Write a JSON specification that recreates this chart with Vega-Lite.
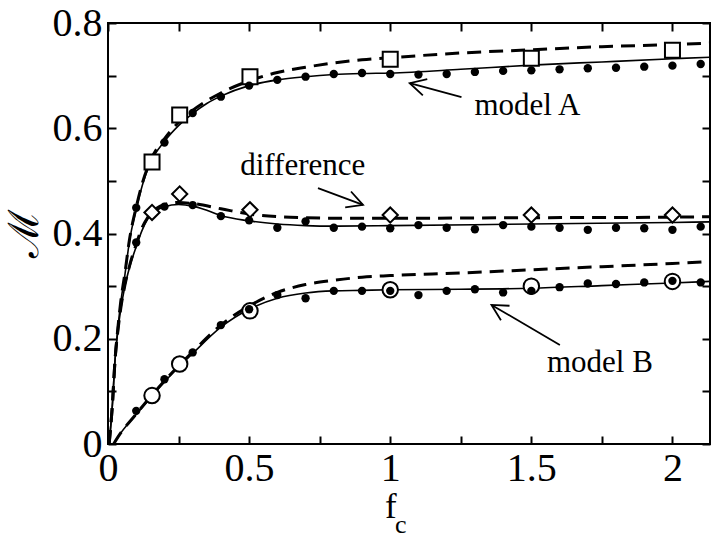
{
  "$schema": "https://vega.github.io/schema/vega-lite/v6.json",
  "width": 602,
  "height": 421,
  "autosize": {"type": "none"},
  "padding": {"left": 108, "top": 23, "right": 11, "bottom": 99},
  "background": "white",
  "config": {
    "view": {"stroke": "black", "strokeWidth": 2},
    "font": "Liberation Serif"
  },
  "datasets": {
    "curves": [
      {"model":"A","theory":"T1","fc":0.004,"M":0},{"model":"A","theory":"T1","fc":0.015,"M":0.07},{"model":"A","theory":"T1","fc":0.025,"M":0.16},{"model":"A","theory":"T1","fc":0.035,"M":0.22},{"model":"A","theory":"T1","fc":0.045,"M":0.268},{"model":"A","theory":"T1","fc":0.06,"M":0.322},{"model":"A","theory":"T1","fc":0.076,"M":0.385},{"model":"A","theory":"T1","fc":0.1,"M":0.446},{"model":"A","theory":"T1","fc":0.123,"M":0.494},{"model":"A","theory":"T1","fc":0.15,"M":0.534},{"model":"A","theory":"T1","fc":0.2,"M":0.575},{"model":"A","theory":"T1","fc":0.25,"M":0.605},{"model":"A","theory":"T1","fc":0.3,"M":0.628},{"model":"A","theory":"T1","fc":0.35,"M":0.647},{"model":"A","theory":"T1","fc":0.4,"M":0.661},{"model":"A","theory":"T1","fc":0.5,"M":0.681},{"model":"A","theory":"T1","fc":0.6,"M":0.692},{"model":"A","theory":"T1","fc":0.7,"M":0.698},{"model":"A","theory":"T1","fc":0.8,"M":0.702},{"model":"A","theory":"T1","fc":0.9,"M":0.704},{"model":"A","theory":"T1","fc":1.0,"M":0.705},{"model":"A","theory":"T1","fc":1.25,"M":0.712},{"model":"A","theory":"T1","fc":1.5,"M":0.72},{"model":"A","theory":"T1","fc":1.75,"M":0.726},{"model":"A","theory":"T1","fc":2.0,"M":0.732},{"model":"A","theory":"T1","fc":2.133,"M":0.735},
      {"model":"A","theory":"T2","fc":0.004,"M":0},{"model":"A","theory":"T2","fc":0.015,"M":0.07},{"model":"A","theory":"T2","fc":0.025,"M":0.16},{"model":"A","theory":"T2","fc":0.035,"M":0.22},{"model":"A","theory":"T2","fc":0.045,"M":0.27},{"model":"A","theory":"T2","fc":0.06,"M":0.325},{"model":"A","theory":"T2","fc":0.076,"M":0.388},{"model":"A","theory":"T2","fc":0.1,"M":0.45},{"model":"A","theory":"T2","fc":0.123,"M":0.498},{"model":"A","theory":"T2","fc":0.15,"M":0.538},{"model":"A","theory":"T2","fc":0.2,"M":0.58},{"model":"A","theory":"T2","fc":0.25,"M":0.611},{"model":"A","theory":"T2","fc":0.3,"M":0.634},{"model":"A","theory":"T2","fc":0.4,"M":0.667},{"model":"A","theory":"T2","fc":0.5,"M":0.69},{"model":"A","theory":"T2","fc":0.6,"M":0.706},{"model":"A","theory":"T2","fc":0.7,"M":0.716},{"model":"A","theory":"T2","fc":0.8,"M":0.724},{"model":"A","theory":"T2","fc":0.9,"M":0.73},{"model":"A","theory":"T2","fc":1.0,"M":0.734},{"model":"A","theory":"T2","fc":1.25,"M":0.743},{"model":"A","theory":"T2","fc":1.5,"M":0.749},{"model":"A","theory":"T2","fc":1.75,"M":0.755},{"model":"A","theory":"T2","fc":2.0,"M":0.759},{"model":"A","theory":"T2","fc":2.133,"M":0.762},
      {"model":"diff","theory":"T1","fc":0.004,"M":0},{"model":"diff","theory":"T1","fc":0.015,"M":0.07},{"model":"diff","theory":"T1","fc":0.025,"M":0.16},{"model":"diff","theory":"T1","fc":0.035,"M":0.215},{"model":"diff","theory":"T1","fc":0.045,"M":0.255},{"model":"diff","theory":"T1","fc":0.06,"M":0.3},{"model":"diff","theory":"T1","fc":0.076,"M":0.335},{"model":"diff","theory":"T1","fc":0.1,"M":0.375},{"model":"diff","theory":"T1","fc":0.12,"M":0.405},{"model":"diff","theory":"T1","fc":0.14,"M":0.427},{"model":"diff","theory":"T1","fc":0.17,"M":0.443},{"model":"diff","theory":"T1","fc":0.2,"M":0.451},{"model":"diff","theory":"T1","fc":0.25,"M":0.455},{"model":"diff","theory":"T1","fc":0.3,"M":0.452},{"model":"diff","theory":"T1","fc":0.35,"M":0.444},{"model":"diff","theory":"T1","fc":0.4,"M":0.434},{"model":"diff","theory":"T1","fc":0.5,"M":0.424},{"model":"diff","theory":"T1","fc":0.6,"M":0.418},{"model":"diff","theory":"T1","fc":0.7,"M":0.415},{"model":"diff","theory":"T1","fc":0.8,"M":0.414},{"model":"diff","theory":"T1","fc":1.0,"M":0.415},{"model":"diff","theory":"T1","fc":1.5,"M":0.418},{"model":"diff","theory":"T1","fc":2.0,"M":0.421},{"model":"diff","theory":"T1","fc":2.133,"M":0.422},
      {"model":"diff","theory":"T2","fc":0.004,"M":0},{"model":"diff","theory":"T2","fc":0.015,"M":0.07},{"model":"diff","theory":"T2","fc":0.025,"M":0.16},{"model":"diff","theory":"T2","fc":0.035,"M":0.215},{"model":"diff","theory":"T2","fc":0.045,"M":0.257},{"model":"diff","theory":"T2","fc":0.06,"M":0.302},{"model":"diff","theory":"T2","fc":0.076,"M":0.338},{"model":"diff","theory":"T2","fc":0.1,"M":0.38},{"model":"diff","theory":"T2","fc":0.12,"M":0.41},{"model":"diff","theory":"T2","fc":0.14,"M":0.43},{"model":"diff","theory":"T2","fc":0.17,"M":0.447},{"model":"diff","theory":"T2","fc":0.2,"M":0.455},{"model":"diff","theory":"T2","fc":0.25,"M":0.459},{"model":"diff","theory":"T2","fc":0.3,"M":0.457},{"model":"diff","theory":"T2","fc":0.4,"M":0.447},{"model":"diff","theory":"T2","fc":0.5,"M":0.437},{"model":"diff","theory":"T2","fc":0.6,"M":0.432},{"model":"diff","theory":"T2","fc":0.7,"M":0.43},{"model":"diff","theory":"T2","fc":0.8,"M":0.429},{"model":"diff","theory":"T2","fc":1.0,"M":0.429},{"model":"diff","theory":"T2","fc":1.5,"M":0.43},{"model":"diff","theory":"T2","fc":2.0,"M":0.431},{"model":"diff","theory":"T2","fc":2.133,"M":0.432},
      {"model":"B","theory":"T1","fc":0.02,"M":0},{"model":"B","theory":"T1","fc":0.035,"M":0.013},{"model":"B","theory":"T1","fc":0.1,"M":0.056},{"model":"B","theory":"T1","fc":0.2,"M":0.118},{"model":"B","theory":"T1","fc":0.3,"M":0.172},{"model":"B","theory":"T1","fc":0.4,"M":0.222},{"model":"B","theory":"T1","fc":0.5,"M":0.256},{"model":"B","theory":"T1","fc":0.6,"M":0.277},{"model":"B","theory":"T1","fc":0.7,"M":0.287},{"model":"B","theory":"T1","fc":0.8,"M":0.291},{"model":"B","theory":"T1","fc":0.9,"M":0.292},{"model":"B","theory":"T1","fc":1.0,"M":0.293},{"model":"B","theory":"T1","fc":1.25,"M":0.294},{"model":"B","theory":"T1","fc":1.5,"M":0.296},{"model":"B","theory":"T1","fc":1.75,"M":0.301},{"model":"B","theory":"T1","fc":2.0,"M":0.306},{"model":"B","theory":"T1","fc":2.133,"M":0.309},
      {"model":"B","theory":"T2","fc":0.02,"M":0},{"model":"B","theory":"T2","fc":0.035,"M":0.013},{"model":"B","theory":"T2","fc":0.1,"M":0.057},{"model":"B","theory":"T2","fc":0.2,"M":0.12},{"model":"B","theory":"T2","fc":0.3,"M":0.175},{"model":"B","theory":"T2","fc":0.4,"M":0.226},{"model":"B","theory":"T2","fc":0.5,"M":0.262},{"model":"B","theory":"T2","fc":0.6,"M":0.288},{"model":"B","theory":"T2","fc":0.7,"M":0.303},{"model":"B","theory":"T2","fc":0.8,"M":0.311},{"model":"B","theory":"T2","fc":0.9,"M":0.317},{"model":"B","theory":"T2","fc":1.0,"M":0.32},{"model":"B","theory":"T2","fc":1.25,"M":0.325},{"model":"B","theory":"T2","fc":1.5,"M":0.331},{"model":"B","theory":"T2","fc":1.75,"M":0.337},{"model":"B","theory":"T2","fc":2.0,"M":0.343},{"model":"B","theory":"T2","fc":2.133,"M":0.347}
    ],
    "dots": [
      {"model":"A","fc":0.1,"M":0.449},{"model":"A","fc":0.2,"M":0.573},{"model":"A","fc":0.3,"M":0.629},{"model":"A","fc":0.4,"M":0.66},{"model":"A","fc":0.5,"M":0.681},{"model":"A","fc":0.6,"M":0.692},{"model":"A","fc":0.7,"M":0.698},{"model":"A","fc":0.8,"M":0.703},{"model":"A","fc":0.9,"M":0.705},{"model":"A","fc":1.0,"M":0.703},{"model":"A","fc":1.1,"M":0.702},{"model":"A","fc":1.2,"M":0.703},{"model":"A","fc":1.3,"M":0.707},{"model":"A","fc":1.4,"M":0.709},{"model":"A","fc":1.5,"M":0.71},{"model":"A","fc":1.6,"M":0.712},{"model":"A","fc":1.7,"M":0.714},{"model":"A","fc":1.8,"M":0.715},{"model":"A","fc":1.9,"M":0.717},{"model":"A","fc":2.0,"M":0.719},{"model":"A","fc":2.1,"M":0.722},
      {"model":"diff","fc":0.1,"M":0.383},{"model":"diff","fc":0.2,"M":0.451},{"model":"diff","fc":0.3,"M":0.454},{"model":"diff","fc":0.4,"M":0.433},{"model":"diff","fc":0.5,"M":0.425},{"model":"diff","fc":0.6,"M":0.411},{"model":"diff","fc":0.7,"M":0.423},{"model":"diff","fc":0.8,"M":0.411},{"model":"diff","fc":0.9,"M":0.413},{"model":"diff","fc":1.0,"M":0.41},{"model":"diff","fc":1.1,"M":0.416},{"model":"diff","fc":1.2,"M":0.411},{"model":"diff","fc":1.3,"M":0.408},{"model":"diff","fc":1.4,"M":0.416},{"model":"diff","fc":1.5,"M":0.413},{"model":"diff","fc":1.6,"M":0.411},{"model":"diff","fc":1.7,"M":0.407},{"model":"diff","fc":1.8,"M":0.411},{"model":"diff","fc":1.9,"M":0.41},{"model":"diff","fc":2.0,"M":0.407},{"model":"diff","fc":2.1,"M":0.413},
      {"model":"B","fc":0.1,"M":0.063},{"model":"B","fc":0.2,"M":0.123},{"model":"B","fc":0.3,"M":0.174},{"model":"B","fc":0.4,"M":0.226},{"model":"B","fc":0.5,"M":0.256},{"model":"B","fc":0.6,"M":0.283},{"model":"B","fc":0.7,"M":0.277},{"model":"B","fc":0.8,"M":0.291},{"model":"B","fc":0.9,"M":0.291},{"model":"B","fc":1.0,"M":0.291},{"model":"B","fc":1.1,"M":0.283},{"model":"B","fc":1.2,"M":0.291},{"model":"B","fc":1.3,"M":0.294},{"model":"B","fc":1.4,"M":0.288},{"model":"B","fc":1.5,"M":0.291},{"model":"B","fc":1.6,"M":0.298},{"model":"B","fc":1.7,"M":0.305},{"model":"B","fc":1.8,"M":0.304},{"model":"B","fc":1.9,"M":0.307},{"model":"B","fc":2.0,"M":0.31},{"model":"B","fc":2.1,"M":0.307}
    ],
    "markers": [
      {"model":"A","fc":0.156,"M":0.536},{"model":"A","fc":0.254,"M":0.625},{"model":"A","fc":0.503,"M":0.698},{"model":"A","fc":1.0,"M":0.731},{"model":"A","fc":1.5,"M":0.733},{"model":"A","fc":2.0,"M":0.748},
      {"model":"diff","fc":0.156,"M":0.44},{"model":"diff","fc":0.254,"M":0.475},{"model":"diff","fc":0.503,"M":0.445},{"model":"diff","fc":1.0,"M":0.435},{"model":"diff","fc":1.5,"M":0.435},{"model":"diff","fc":2.0,"M":0.435},
      {"model":"B","fc":0.156,"M":0.092},{"model":"B","fc":0.254,"M":0.152},{"model":"B","fc":0.503,"M":0.253},{"model":"B","fc":1.0,"M":0.293},{"model":"B","fc":1.5,"M":0.3},{"model":"B","fc":2.0,"M":0.309}
    ],
    "labels": [
      {"text":"model A","fc":1.486,"M":0.6255},
      {"text":"difference","fc":0.69,"M":0.5114},
      {"text":"model B","fc":1.743,"M":0.1375}
    ],
    "arrows": [
      {"seg":"A_shaft","ord":0,"fc":1.2525,"M":0.6591},{"seg":"A_shaft","ord":1,"fc":1.0691,"M":0.6857},
      {"seg":"A_head","ord":0,"fc":1.1156,"M":0.6624},{"seg":"A_head","ord":1,"fc":1.0691,"M":0.6857},{"seg":"A_head","ord":2,"fc":1.1312,"M":0.6933},
      {"seg":"D_shaft","ord":0,"fc":0.744,"M":0.4861},{"seg":"D_shaft","ord":1,"fc":0.9035,"M":0.4544},
      {"seg":"D_head","ord":0,"fc":0.861,"M":0.4798},{"seg":"D_head","ord":1,"fc":0.9035,"M":0.4544},{"seg":"D_head","ord":2,"fc":0.8404,"M":0.4498},
      {"seg":"B_shaft","ord":0,"fc":1.6011,"M":0.1882},{"seg":"B_shaft","ord":1,"fc":1.3589,"M":0.2643},
      {"seg":"B_head","ord":0,"fc":1.3922,"M":0.2352},{"seg":"B_head","ord":1,"fc":1.3589,"M":0.2643},{"seg":"B_head","ord":2,"fc":1.4227,"M":0.2627}
    ],
    "xtitle_main": [{"text":"f","fc":1.002,"M":-0.1407}],
    "xtitle_sub": [{"text":"c","fc":1.037,"M":-0.169}]
  },
  "layer": [
    {
      "data": {"name": "curves"},
      "transform": [{"filter": "datum.theory === 'T1'"}],
      "mark": {"type": "line", "color": "black", "strokeWidth": 1.6, "interpolate": "monotone", "clip": true},
      "encoding": {
        "x": {"field": "fc", "type": "quantitative", "scale": {"domain": [0, 2.133], "nice": false, "zero": false},
          "axis": {"orient": "bottom", "values": [0,0.25,0.5,0.75,1,1.25,1.5,1.75,2], "format": ".2~f",
            "labelExpr": "datum.value % 0.5 == 0 ? datum.label : ''",
            "domain": false, "grid": false, "ticks": true, "tickSize": -8, "tickWidth": 2, "tickColor": "black",
            "labelFont": "Liberation Serif", "labelFontSize": 40, "labelColor": "black", "labelPadding": 12, "labelFlush": false, "labelOverlap": false, "labelBound": false,
            "title": null}},
        "y": {"field": "M", "type": "quantitative", "scale": {"domain": [0, 0.8], "nice": false, "zero": false},
          "axis": {"orient": "left", "values": [0,0.1,0.2,0.3,0.4,0.5,0.6,0.7,0.8], "format": ".1~f",
            "labelExpr": "round(datum.value*10) % 2 == 0 ? datum.label : ''",
            "domain": false, "grid": false, "ticks": true, "tickSize": -8, "tickWidth": 2, "tickColor": "black",
            "labelFont": "Liberation Serif", "labelFontSize": 40, "labelColor": "black", "labelPadding": 14, "labelFlush": false, "labelOverlap": false, "labelBound": false,
            "title": "ℳ", "titleFont": "DejaVu Serif", "titleFontSize": 42, "titleFontWeight": "normal", "titleColor": "black",
            "titleX": -84, "titleY": 210, "titleAngle": 270, "titleAlign": "center", "titleBaseline": "middle"}},
        "detail": {"field": "model"}
      }
    },
    {
      "data": {"name": "curves"},
      "transform": [{"filter": "datum.theory === 'T2'"}],
      "mark": {"type": "line", "color": "black", "strokeWidth": 3, "strokeDash": [14, 8], "interpolate": "monotone", "clip": true},
      "encoding": {
        "x": {"field": "fc", "type": "quantitative",
          "axis": {"orient": "top", "values": [0,0.25,0.5,0.75,1,1.25,1.5,1.75,2], "labels": false, "domain": false, "grid": false,
            "tickSize": -8, "tickWidth": 2, "tickColor": "black", "title": null}},
        "y": {"field": "M", "type": "quantitative",
          "axis": {"orient": "right", "values": [0,0.1,0.2,0.3,0.4,0.5,0.6,0.7,0.8], "labels": false, "domain": false, "grid": false,
            "tickSize": -8, "tickWidth": 2, "tickColor": "black", "title": null}},
        "detail": {"field": "model"}
      }
    },
    {
      "data": {"name": "arrows"},
      "mark": {"type": "line", "color": "black", "strokeWidth": 1.8},
      "encoding": {
        "x": {"field": "fc", "type": "quantitative", "axis": null},
        "y": {"field": "M", "type": "quantitative", "axis": null},
        "detail": {"field": "seg"},
        "order": {"field": "ord"}
      }
    },
    {
      "data": {"name": "markers"},
      "mark": {"type": "point", "filled": true, "fill": "white", "stroke": "black", "strokeWidth": 2, "opacity": 1},
      "encoding": {
        "x": {"field": "fc", "type": "quantitative", "axis": null},
        "y": {"field": "M", "type": "quantitative", "axis": null},
        "shape": {"field": "model", "type": "nominal", "legend": null,
          "scale": {"domain": ["A", "diff", "B"], "range": ["square", "diamond", "circle"]}},
        "size": {"field": "model", "type": "nominal", "legend": null,
          "scale": {"domain": ["A", "diff", "B"], "range": [225, 240, 361]}}
      }
    },
    {
      "data": {"name": "dots"},
      "mark": {"type": "circle", "color": "black", "size": 70, "opacity": 1},
      "encoding": {
        "x": {"field": "fc", "type": "quantitative", "axis": null},
        "y": {"field": "M", "type": "quantitative", "axis": null}
      }
    },
    {
      "data": {"name": "labels"},
      "mark": {"type": "text", "font": "Liberation Serif", "fontSize": 31, "color": "black", "align": "center", "baseline": "alphabetic"},
      "encoding": {
        "x": {"field": "fc", "type": "quantitative", "axis": null},
        "y": {"field": "M", "type": "quantitative", "axis": null},
        "text": {"field": "text"}
      }
    },
    {
      "data": {"name": "xtitle_main"},
      "mark": {"type": "text", "font": "Liberation Serif", "fontSize": 35, "color": "black", "align": "center", "baseline": "alphabetic"},
      "encoding": {
        "x": {"field": "fc", "type": "quantitative", "axis": null},
        "y": {"field": "M", "type": "quantitative", "axis": null},
        "text": {"field": "text"}
      }
    },
    {
      "data": {"name": "xtitle_sub"},
      "mark": {"type": "text", "font": "Liberation Serif", "fontSize": 26, "color": "black", "align": "center", "baseline": "alphabetic"},
      "encoding": {
        "x": {"field": "fc", "type": "quantitative", "axis": null},
        "y": {"field": "M", "type": "quantitative", "axis": null},
        "text": {"field": "text"}
      }
    }
  ],
  "resolve": {"axis": {"x": "independent", "y": "independent"}}
}
